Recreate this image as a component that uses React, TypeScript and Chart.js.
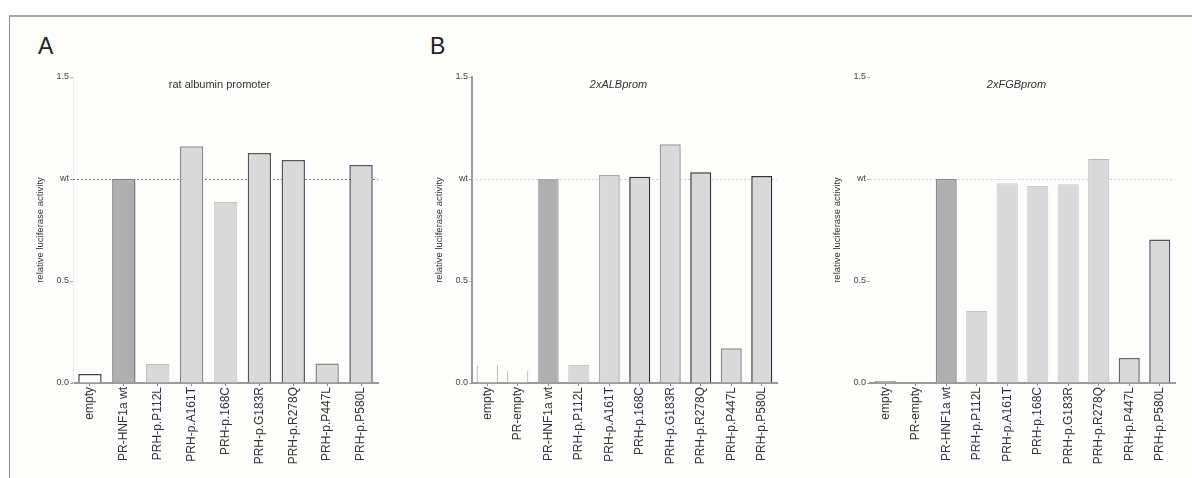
import React, { useEffect, useRef } from 'react';
import { Chart, registerables } from 'chart.js';

Chart.register(...registerables);

// ---------- data ----------
const categoriesA = [
  'empty',
  'PR-HNF1a wt',
  'PRH-p.P112L',
  'PRH-p.A161T',
  'PRH-p.168C',
  'PRH-p.G183R',
  'PRH-p.R278Q',
  'PRH-p.P447L',
  'PRH-p.P580L',
];
const valuesA = [0.044, 1.0, 0.093, 1.16, 0.887, 1.127, 1.093, 0.096, 1.069];

const categoriesB = [
  'empty',
  'PR-empty',
  'PR-HNF1a wt',
  'PRH-p.P112L',
  'PRH-p.A161T',
  'PRH-p.168C',
  'PRH-p.G183R',
  'PRH-p.R278Q',
  'PRH-p.P447L',
  'PRH-p.P580L',
];
const valuesB = [0.088, 0.059, 1.0, 0.088, 1.02, 1.011, 1.17, 1.033, 0.17, 1.015];

const categoriesC = categoriesB;
const valuesC = [0.01, 0, 1.0, 0.353, 0.979, 0.966, 0.974, 1.098, 0.123, 0.704];

const yTickValues = [0, 0.5, 1, 1.5];
const yTickLabels = ['0.0', '0.5', 'wt', '1.5'];
const referenceValue = 1;
const yAxisTitle = 'relative luciferase activity';
const titleA = 'rat albumin promoter';
const titleB = '2xALBprom';
const titleC = '2xFGBprom';

// ---------- styles ----------
const BG = '#fdfdfb';
const DARK = '#afafaf';
const LIGHT = '#d9d9d9';
const FONT = '"Liberation Sans", Arial, Helvetica, sans-serif';

const fillsA = ['#ffffff', DARK, LIGHT, LIGHT, LIGHT, LIGHT, LIGHT, LIGHT, LIGHT];
const bordersA = ['#444', '#7a7a7a', '#bdbdbd', '#888', '#c4c4c4', '#555', '#555', '#888', '#555'];
const widthsA = [1.5, 1.5, 1, 1.5, 1, 1.5, 1.5, 1.5, 1.5];

const emptyW = { left: 1, right: 1, top: 0, bottom: 0 };
const fillsB = [BG, BG, DARK, LIGHT, LIGHT, LIGHT, LIGHT, LIGHT, LIGHT, LIGHT];
const bordersB = ['#999', '#999', '#a8a8a8', '#c8c8c8', '#aaa', '#333', '#999', '#333', '#888', '#333'];
const widthsB: any[] = [emptyW, emptyW, 1, 1, 1.5, 1.5, 1.5, 1.5, 1.5, 1.5];

const fillsC = ['#c8c8c8', LIGHT, DARK, LIGHT, LIGHT, LIGHT, LIGHT, LIGHT, LIGHT, LIGHT];
const bordersC = ['#888', '#888', '#888', '#c4c4c4', '#c8c8c8', '#c8c8c8', '#c8c8c8', '#b8b8b8', '#666', '#555'];
const widthsC = [1.5, 0, 1.5, 1, 1, 1, 1, 1, 1.5, 1.5];

const decorPlugin = {
  id: 'decor',
  beforeDatasetsDraw(chart: any, _args: any, opts: any) {
    const { ctx, chartArea, scales } = chart;
    const y = Math.round(scales.y.getPixelForValue(referenceValue)) + 0.5;
    ctx.save();
    ctx.strokeStyle = opts.refColor;
    ctx.lineWidth = 1;
    ctx.setLineDash([2, 2]);
    ctx.beginPath();
    ctx.moveTo(chartArea.left, y);
    ctx.lineTo(chartArea.right, y);
    ctx.stroke();
    ctx.restore();
  },
  afterDatasetsDraw(chart: any, _args: any, opts: any) {
    const { ctx, chartArea } = chart;
    ctx.save();
    ctx.fillStyle = '#333';
    ctx.font = `${opts.italic ? 'italic ' : ''}11px ${FONT}`;
    ctx.textAlign = 'center';
    ctx.textBaseline = 'middle';
    ctx.fillText(opts.title, (chartArea.left + chartArea.right) / 2 - 6, chartArea.top + 8);
    ctx.restore();
  },
};

type PanelProps = {
  left: number;
  labels: string[];
  values: number[];
  fills: string[];
  borders: string[];
  widths: any[];
  title: string;
  italic: boolean;
  refColor: string;
  yBorder: any;
};

const CW = 353;
const CH = 478;

function Panel(p: PanelProps) {
  const ref = useRef<HTMLCanvasElement | null>(null);
  useEffect(() => {
    if (!ref.current) return;
    const chart = new Chart(ref.current, {
      type: 'bar',
      data: {
        labels: p.labels,
        datasets: [
          {
            data: p.values,
            backgroundColor: p.fills,
            borderColor: p.borders,
            borderWidth: p.widths,
            borderSkipped: 'start',
            categoryPercentage: 1,
            barPercentage: 0.69,
          } as any,
        ],
      },
      options: {
        animation: false,
        responsive: false,
        maintainAspectRatio: false,
        devicePixelRatio: 1,
        layout: { padding: { top: 77, right: 5, left: 0, bottom: 0 } },
        plugins: {
          legend: { display: false },
          tooltip: { enabled: false },
          decor: { title: p.title, italic: p.italic, refColor: p.refColor },
        } as any,
        scales: {
          x: {
            type: 'category',
            offset: true,
            z: 1,
            grid: {
              display: true,
              offset: false,
              drawOnChartArea: false,
              drawTicks: true,
              tickLength: 3,
              tickColor: '#888',
              tickWidth: 1,
            },
            border: { display: true, color: '#9a9a9a', width: 2 },
            ticks: {
              autoSkip: false,
              minRotation: 90,
              maxRotation: 90,
              padding: 1,
              color: '#333',
              font: { family: FONT, size: 12 },
            },
            afterFit: (s: any) => {
              s.height = 95;
            },
          },
          y: {
            type: 'linear',
            min: 0,
            max: 1.5,
            afterBuildTicks: (s: any) => {
              s.ticks = yTickValues.map((v) => ({ value: v }));
            },
            grid: {
              display: true,
              drawOnChartArea: false,
              drawTicks: true,
              tickLength: 3,
              tickColor: '#aaa',
            },
            border: p.yBorder,
            ticks: {
              padding: 1,
              color: '#444',
              font: { family: FONT, size: 9 },
              callback: (v: any) => {
                const i = yTickValues.indexOf(Number(v));
                return i >= 0 ? yTickLabels[i] : '';
              },
            },
            title: {
              display: true,
              text: yAxisTitle,
              padding: { top: 5, bottom: 0 },
              color: '#333',
              font: { family: FONT, size: 9.5 },
            },
            afterFit: (s: any) => {
              s.width = 43;
            },
          },
        } as any,
      },
      plugins: [decorPlugin as any],
    });
    return () => chart.destroy();
  }, []);
  return (
    <canvas
      ref={ref}
      width={CW}
      height={CH}
      style={{ position: 'absolute', left: p.left, top: 0, width: CW, height: CH, display: 'block' }}
    />
  );
}

export default function App() {
  return (
    <div
      style={{
        position: 'absolute',
        left: 0,
        top: 0,
        width: 1192,
        height: 478,
        background: '#ffffff',
        overflow: 'hidden',
        fontFamily: FONT,
      }}
    >
      <div
        style={{
          position: 'absolute',
          left: 9,
          top: 15,
          right: 0,
          bottom: 0,
          background: BG,
          borderTop: '2px solid #a6a6a6',
          borderLeft: '1px solid #8c8c8c',
        }}
      />
      <div style={{ position: 'absolute', left: 38, top: 35, fontSize: 23, lineHeight: 1, color: '#222' }}>A</div>
      <div style={{ position: 'absolute', left: 430, top: 35, fontSize: 23, lineHeight: 1, color: '#222' }}>B</div>
      <Panel
        left={30}
        labels={categoriesA}
        values={valuesA}
        fills={fillsA}
        borders={bordersA}
        widths={widthsA}
        title={titleA}
        italic={false}
        refColor="#777"
        yBorder={{ display: true, color: '#ececec', width: 1 }}
      />
      <Panel
        left={429}
        labels={categoriesB}
        values={valuesB}
        fills={fillsB}
        borders={bordersB}
        widths={widthsB}
        title={titleB}
        italic={true}
        refColor="#cfcfcf"
        yBorder={{ display: true, color: '#9a9a9a', width: 2 }}
      />
      <Panel
        left={827}
        labels={categoriesC}
        values={valuesC}
        fills={fillsC}
        borders={bordersC}
        widths={widthsC}
        title={titleC}
        italic={true}
        refColor="#cfcfcf"
        yBorder={{ display: false }}
      />
    </div>
  );
}
